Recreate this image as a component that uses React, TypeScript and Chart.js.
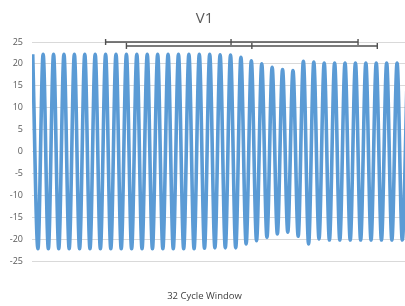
import React, { useEffect, useRef } from "react";
import { Chart, registerables } from "chart.js";

Chart.register(...registerables);

// Peak value of each cycle (cycle index 0..36)
const peakValues: number[] = [
  22.2, 22.2, 22.2, 22.2, 22.2, 22.2, 22.2, 22.2, 22.2, 22.2,
  22.2, 22.2, 22.2, 22.2, 22.2, 22.2, 22.2, 22.2, 22.1, 22.0,
  21.5, 20.7, 20.0, 19.2, 18.7, 18.5, 20.6, 20.4, 20.2, 20.2,
  20.2, 20.2, 20.2, 20.2, 20.2, 20.2, 20.2,
];

// Trough value of each cycle (half-cycle index 0.5..35.5)
const troughValues: number[] = [
  -22.2, -22.2, -22.2, -22.2, -22.2, -22.2, -22.2, -22.2, -22.2, -22.2,
  -22.2, -22.2, -22.2, -22.2, -22.2, -22.2, -22.1, -22.0, -22.0, -22.0,
  -21.1, -20.35, -19.6, -18.8, -18.4, -19.35, -21.1, -19.95, -20.2, -20.2,
  -20.2, -20.2, -20.2, -20.2, -20.2, -20.2,
];

// Window brackets: start, middle, end (in cycles) and level
const bracketUpperX: number[] = [7, 19.05, 31.25];
const bracketUpperY = 25;
const bracketLowerX: number[] = [9, 21.05, 33.1];
const bracketLowerY = 24.1;

const titleText = "V1";
const xAxisTitle = "32 Cycle Window";
const yMin = -25;
const yMax = 25;
const yStep = 5;

export default function App() {
  const canvasRef = useRef<HTMLCanvasElement | null>(null);

  useEffect(() => {
    document.body.style.margin = "0";
    const canvas = canvasRef.current;
    if (!canvas) return;

    const wave: { x: number; y: number }[] = [];
    for (let k = 0; k < peakValues.length; k++) {
      wave.push({ x: k, y: peakValues[k] });
      if (k < troughValues.length) wave.push({ x: k + 0.5, y: troughValues[k] });
    }
    const upper = bracketUpperX.map((x) => ({ x, y: bracketUpperY }));
    const lower = bracketLowerX.map((x) => ({ x, y: bracketLowerY }));

    const bracketStyle = {
      borderColor: "#4f4f4f",
      borderWidth: 1.4,
      pointStyle: "line" as const,
      pointRotation: 90,
      pointRadius: 3,
      pointBorderWidth: 1.4,
      pointBorderColor: "#4f4f4f",
      pointHoverRadius: 3,
      tension: 0,
      clip: false as const,
    };

    const chart = new Chart(canvas, {
      type: "line",
      data: {
        datasets: [
          { ...bracketStyle, data: upper },
          { ...bracketStyle, data: lower },
          {
            data: wave,
            borderColor: "#5B9BD5",
            borderWidth: 3.6,
            pointRadius: 0,
            cubicInterpolationMode: "monotone",
          },
        ],
      },
      options: {
        responsive: false,
        animation: false,
        devicePixelRatio: 1,
        layout: { padding: { left: 0, right: 6, top: 0, bottom: 0 } },
        plugins: {
          legend: { display: false },
          tooltip: { enabled: false },
          title: {
            display: true,
            text: titleText,
            color: "#595959",
            font: { family: "'Open Sans', sans-serif", size: 15, weight: "normal" },
            padding: { top: 9.5, bottom: 14.5 },
          },
          subtitle: {
            display: true,
            position: "bottom",
            text: xAxisTitle,
            color: "#404040",
            font: { family: "'Open Sans', sans-serif", size: 9.5, weight: "normal" },
            padding: { top: 29.3, bottom: 4.3 },
          },
        },
        scales: {
          x: {
            type: "linear",
            display: false,
            min: -0.07,
            max: -0.07 + 377 / 10.41,
          },
          y: {
            min: yMin,
            max: yMax,
            border: { display: false },
            grid: { color: "#d9d9d9", lineWidth: 1, drawTicks: false },
            ticks: {
              stepSize: yStep,
              padding: 9,
              color: "#595959",
              font: { family: "'Open Sans', sans-serif", size: 9 },
            },
            afterFit: (scale: any) => {
              scale.width = 32;
            },
          },
        },
      },
    });
    return () => chart.destroy();
  }, []);

  return (
    <div style={{ width: 405, height: 306, overflow: "hidden" }}>
      <canvas ref={canvasRef} width={415} height={306} style={{ display: "block" }} />
    </div>
  );
}
